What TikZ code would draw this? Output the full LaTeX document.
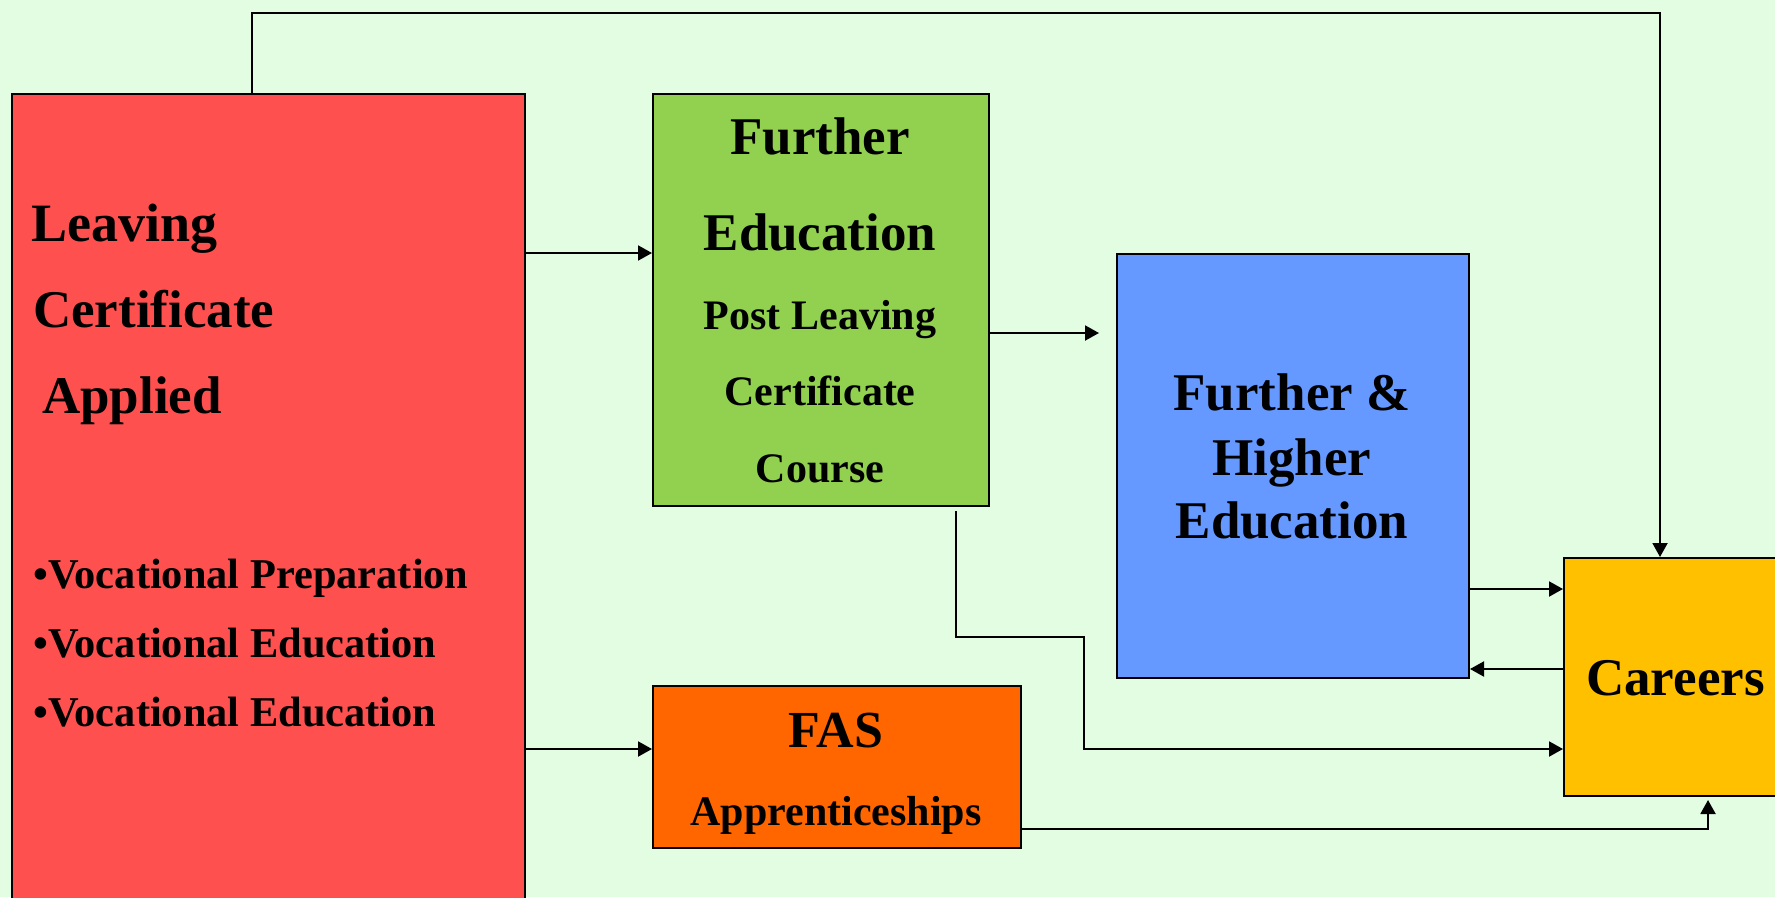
\documentclass[tikz,border=0pt]{standalone}
\usepackage{fontspec}
\setmainfont{Liberation Serif}
\usetikzlibrary{arrows.meta}
\definecolor{bgc}{HTML}{E3FDE3}
\definecolor{redc}{HTML}{FF5050}
\definecolor{greenc}{HTML}{92D050}
\definecolor{bluec}{HTML}{6699FF}
\definecolor{orangec}{HTML}{FF6600}
\definecolor{goldc}{HTML}{FFC000}
\tikzset{
  box/.style={draw=black, line width=2pt, rectangle, inner sep=0pt, anchor=north west},
  conn/.style={draw=black, line width=2pt},
  arr/.style={conn, -{Triangle[length=14pt,width=15pt]}},
  txt/.style={inner sep=0pt, anchor=base, font=\bfseries},
  ltxt/.style={inner sep=0pt, anchor=base west, font=\bfseries},
}
\begin{document}
\begin{tikzpicture}[x=1pt,y=-1pt]
\useasboundingbox (0,0) rectangle (1775,897);
\clip (0,0) rectangle (1775,897);
\fill[bgc] (0,0) rectangle (1775,897);

% boxes
\node[box, fill=redc, minimum width=513pt, minimum height=840pt] (lc) at (11,93) {};
\node[box, fill=greenc, minimum width=336pt, minimum height=412pt] (fe) at (652,93) {};
\node[box, fill=bluec, minimum width=352pt, minimum height=424pt] (fhe) at (1116,253) {};
\node[box, fill=orangec, minimum width=368pt, minimum height=162pt] (fas) at (652,685) {};
\node[box, fill=goldc, minimum width=240pt, minimum height=238pt] (car) at (1563,557) {};

% red box text
\node[ltxt, font=\bfseries\fontsize{54}{60}\selectfont] (t1) at (31,241) {Leaving};
\node[ltxt, font=\bfseries\fontsize{53}{60}\selectfont] (t2) at (33,327) {Certificate};
\node[ltxt, font=\bfseries\fontsize{53}{60}\selectfont] (t3) at (42,413) {Applied};
\node[ltxt, font=\bfseries\fontsize{42.4}{48}\selectfont] (b1) at (33,588) {•Vocational Preparation};
\node[ltxt, font=\bfseries\fontsize{42.4}{48}\selectfont] (b2) at (33,657) {•Vocational Education};
\node[ltxt, font=\bfseries\fontsize{42.4}{48}\selectfont] (b3) at (33,726) {•Vocational Education};

% green box text
\node[txt, font=\bfseries\fontsize{53}{60}\selectfont] (g1) at (820,154) {Further};
\node[txt, font=\bfseries\fontsize{53}{60}\selectfont] (g2) at (820,250) {Education};
\node[txt, font=\bfseries\fontsize{42}{48}\selectfont] (g3) at (820,329) {Post Leaving};
\node[txt, font=\bfseries\fontsize{42}{48}\selectfont] (g4) at (820,405) {Certificate};
\node[txt, font=\bfseries\fontsize{42}{48}\selectfont] (g5) at (820,482) {Course};

% blue box text
\node[txt, font=\bfseries\fontsize{53}{60}\selectfont] (h1) at (1292,410) {Further \&};
\node[txt, font=\bfseries\fontsize{53}{60}\selectfont] (h2) at (1292,475) {Higher};
\node[txt, font=\bfseries\fontsize{53}{60}\selectfont] (h3) at (1292,538) {Education};

% FAS text
\node[txt, font=\bfseries\fontsize{52}{60}\selectfont] (f1) at (836,747) {FAS};
\node[txt, font=\bfseries\fontsize{42}{48}\selectfont] (f2) at (836,825) {Apprenticeships};

% careers text
\node[ltxt, font=\bfseries\fontsize{53}{60}\selectfont] (c1) at (1586,695) {Careers};

% connectors
\draw[arr] (lc.east |- 0,253) -- (fe.west |- 0,253);
\draw[arr, shorten >=17pt] (fe.east |- 0,333) -- (fhe.west |- 0,333);
\draw[arr] (lc.east |- 0,749) -- (fas.west |- 0,749);
\draw[arr] (fhe.east |- 0,589) -- (car.west |- 0,589);
\draw[arr] (car.west |- 0,669) -- (fhe.east |- 0,669);
\draw[arr, shorten <=4pt] (956,0 |- fe.south) -- (956,637) -- (1084,637) -- (1084,749) -- (car.west |- 0,749);
\draw[arr, shorten >=3pt] (fas.east |- 0,829) -- (1708,829) -- (1708,0 |- car.south);
\draw[arr] (252,0 |- lc.north) -- (252,13) -- (1660,13) -- (1660,0 |- car.north);
\end{tikzpicture}
\end{document}
